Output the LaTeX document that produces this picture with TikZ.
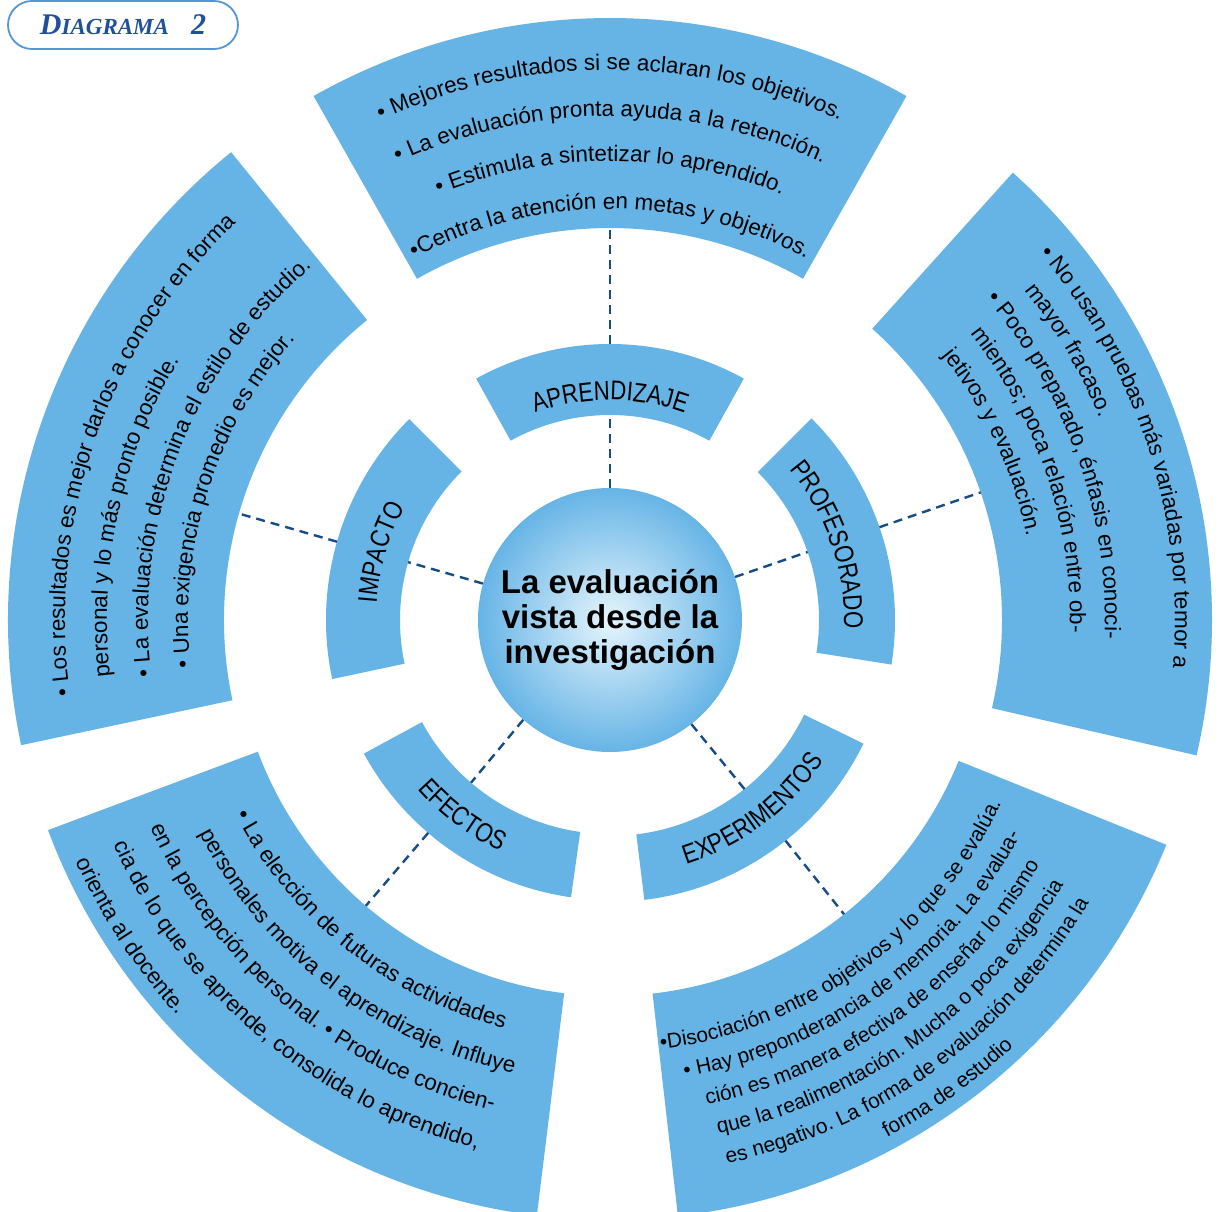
\documentclass[tikz,border=0pt]{standalone}
\usepackage{fontspec}
\setmainfont{Liberation Sans}
\newfontfamily\etiqfont[FakeStretch=0.82]{Liberation Sans}
\newfontfamily\titfont{Liberation Serif}
\usetikzlibrary{decorations.text}

\definecolor{segazul}{RGB}{102,180,230}
\definecolor{centroclaro}{RGB}{230,245,252}
\definecolor{lineazul}{RGB}{24,76,134}
\definecolor{tituloazul}{RGB}{32,80,156}
\definecolor{bordeazul}{RGB}{84,150,210}

\tikzstyle{segmento} = [fill=segazul]
\tikzstyle{centro} = [circle, minimum size=264pt, inner sep=0pt, shading=radial, inner color=centroclaro, outer color=segazul, align=center, font=\bfseries\fontsize{33pt}{35pt}\selectfont]
\tikzstyle{conector} = [draw=lineazul, line width=2.4pt, dash pattern=on 9pt off 6pt]
\tikzstyle{rotulo} = [rectangle, rounded corners=24pt, draw=bordeazul, line width=1.8pt, minimum width=230pt, minimum height=48pt, text=tituloazul, font=\titfont\bfseries\itshape]

\newcommand{\txtanillo}{\fontsize{22.5pt}{27pt}\selectfont}
\newcommand{\txtabajo}{\fontsize{21pt}{25pt}\selectfont}
\newcommand{\txtetiqueta}{\etiqfont\fontsize{27pt}{30pt}\selectfont}
% ring piece: start angle, end angle, inner radius, outer radius
\newcommand{\anillo}[4]{\fill[segmento] (#1:#3) arc[start angle=#1, end angle=#2, radius=#3pt] -- (#2:#4) arc[start angle=#2, end angle=#1, radius=#4pt] -- cycle;}
% text on an arc: font, align, from, to, radius, text
\newcommand{\curva}[6]{\path[decorate, decoration={text along path, text align=#2, text={|#1|#6}}] (#3:#5) arc[start angle=#3, end angle=#4, radius=#5pt];}

\begin{document}
\begin{tikzpicture}[x=1pt, y=1pt]

\useasboundingbox[fill=white] (-610,-592) rectangle (613,620);

%% RINGS

\anillo{60.5}{119.5}{392}{602}
\anillo{129}{192}{386}{602}
\anillo{200.5}{263}{376}{600}
\anillo{276.5}{338}{376}{600}
\anillo{-13}{48}{392}{602}

\anillo{61}{119}{205}{276}
\anillo{135}{192}{210}{284}
\anillo{-9}{45}{209}{285}
\anillo{208.5}{262}{214}{280}
\anillo{277}{334}{216}{282}

%% NODES

\node (centro) [centro] at (0,0) {La evaluación\\vista desde la\\investigación};
\node (rotulo) [rotulo] at (-487,595) {{\fontsize{30pt}{30pt}\selectfont D}{\fontsize{23pt}{23pt}\selectfont IAGRAMA}\hspace{22pt}{\fontsize{30pt}{30pt}\selectfont 2}\hspace{13pt}};

\coordinate (aprIn) at (90:205);
\coordinate (aprOut) at (90:276);
\coordinate (supIn) at (90:392);
\coordinate (impIn) at (164:210);
\coordinate (impOut) at (164:284);
\coordinate (izqIn) at (164:386);
\coordinate (proIn) at (19:209);
\coordinate (proOut) at (19:285);
\coordinate (derIn) at (19:392);
\coordinate (efeIn) at (229.5:214);
\coordinate (efeOut) at (229.5:280);
\coordinate (infizqIn) at (229.5:376);
\coordinate (expIn) at (308.5:216);
\coordinate (expOut) at (308.5:282);
\coordinate (infderIn) at (308.5:376);

%% ARROWS

\draw [conector] (centro.90) -- (aprIn);
\draw [conector] (aprOut) -- (supIn);
\draw [conector] (centro.164) -- (impIn);
\draw [conector] (impOut) -- (izqIn);
\draw [conector] (centro.19) -- (proIn);
\draw [conector] (proOut) -- (derIn);
\draw [conector] (centro.229.5) -- (efeIn);
\draw [conector] (efeOut) -- (infizqIn);
\draw [conector] (centro.308.5) -- (expIn);
\draw [conector] (expOut) -- (infderIn);

%% LABELS

\curva{\txtetiqueta}{center}{130}{50}{220}{APRENDIZAJE}
\curva{\txtetiqueta}{center}{203.5}{123.5}{234}{IMPACTO}
\curva{\txtetiqueta}{center}{59}{-21}{234}{PROFESORADO}
\curva{\txtetiqueta}{center}{193}{273}{256}{EFECTOS}
\curva{\txtetiqueta}{center}{267}{347}{256}{EXPERIMENTOS}

%% TEXTS

\curva{\txtanillo}{center}{130}{50}{550}{• Mejores resultados si se aclaran los objetivos.}
\curva{\txtanillo}{center}{130}{50}{504}{• La evaluación pronta ayuda a la retención.}
\curva{\txtanillo}{center}{130}{50}{459}{• Estimula a sintetizar lo aprendido.}
\curva{\txtanillo}{center}{130}{50}{411}{•Centra la atención en metas y objetivos.}

\curva{\txtanillo}{left}{188}{110}{545}{• Los resultados es mejor darlos a conocer en forma}
\curva{\txtanillo}{left}{186.5}{110}{503}{personal y lo más pronto posible.}
\curva{\txtanillo}{left}{187}{110}{462}{• La evaluación determina el estilo de estudio.}
\curva{\txtanillo}{left}{186.5}{110}{422}{• Una exigencia promedio es mejor.}

\curva{\txtanillo}{left}{40.5}{-30}{565}{• No usan pruebas más variadas por temor a}
\curva{\txtanillo}{left}{38.5}{-30}{530}{mayor fracaso.}
\curva{\txtanillo}{left}{40.5}{-30}{495}{• Poco preparado, énfasis en conoci-}
\curva{\txtanillo}{left}{38.5}{-30}{460}{mientos; poca relación entre ob-}
\curva{\txtanillo}{left}{38.5}{-30}{425}{jetivos y evaluación.}

\curva{\txtanillo}{left}{207.5}{285}{422}{• La elección de futuras actividades}
\curva{\txtanillo}{left}{207.5}{285}{463}{personales motiva el aprendizaje. Influye}
\curva{\txtanillo}{left}{204.3}{285}{504}{en la percepción personal. • Produce concien-}
\curva{\txtanillo}{left}{204.3}{285}{545}{cia de lo que se aprende, consolida lo aprendido,}
\curva{\txtanillo}{left}{204.3}{285}{586}{orienta al docente.}

\curva{\txtabajo}{center}{265.8}{345.8}{432}{•Disociación entre objetivos y lo que se evalúa.}
\curva{\txtabajo}{center}{265.8}{345.8}{463}{• Hay preponderancia de memoria. La evalua-}
\curva{\txtabajo}{center}{265.8}{345.8}{494}{ción es manera efectiva de enseñar lo mismo}
\curva{\txtabajo}{center}{265.8}{345.8}{525}{que la realimentación.  Mucha o poca exigencia}
\curva{\txtabajo}{center}{265.8}{345.8}{556}{es negativo. La forma de evaluación determina la}
\curva{\txtabajo}{center}{265.8}{345.8}{587}{forma de estudio}

\end{tikzpicture}
\end{document}
